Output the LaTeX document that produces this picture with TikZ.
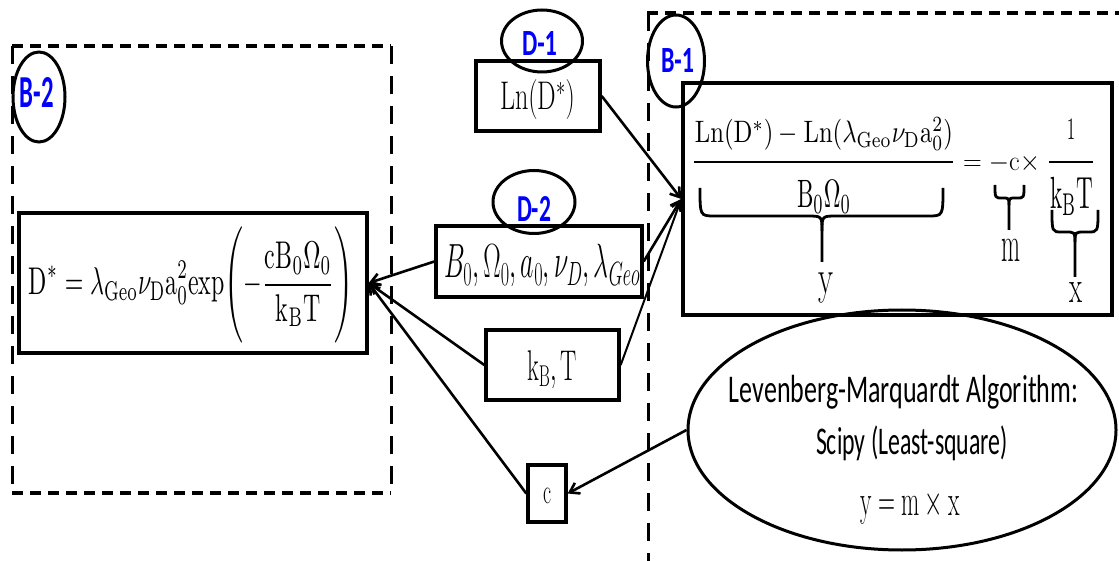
\RequirePackage{fix-cm}
\documentclass[tikz,border=0pt]{standalone}
\usepackage{fontspec}
\usepackage{graphicx}
\newfontfamily\calib{Carlito}
\usetikzlibrary{arrows.meta,shapes.geometric}
\newcommand{\fw}[3]{\resizebox{#1}{\height}{\fontsize{#2}{#2}\selectfont #3}}
\newcommand{\fwh}[3]{\resizebox*{#1}{#2}{#3}}
% underbrace with stem: x1, x2, xc, ytop, ymid, ystem, r
\newcommand{\ubr}[7]{%
  \draw[brc] (#1,#4) .. controls (#1,#5) .. (#1+#7,#5) -- (#3-#7,#5) .. controls (#3,#5) .. (#3,#5+#7) -- (#3,#6);
  \draw[brc] (#2,#4) .. controls (#2,#5) .. (#2-#7,#5) -- (#3+#7,#5) .. controls (#3,#5) .. (#3,#5+#7);}
\begin{document}
\begin{tikzpicture}[x=1pt,y=-1pt,
  box/.style={draw, rectangle, line width=3.4pt, inner sep=0pt},
  lbl/.style={draw, ellipse, line width=3pt, inner sep=0pt},
  lbltxt/.style={inner sep=0pt, text=blue},
  txt/.style={inner sep=0pt},
  arr/.style={line width=2.6pt, -{Straight Barb[length=9pt,width=12pt]}},
  dsh/.style={line width=4pt, dash pattern=on 11pt off 7pt},
  dsv/.style={line width=3pt, dash pattern=on 18pt off 12pt},
  brc/.style={line width=2.8pt},
  bar/.style={line width=2.6pt}]
\useasboundingbox (0,0) rectangle (1119,561);

% dashed frames
\draw[dsh] (12,46) -- (391,46);
\draw[dsh] (12,493) -- (391,493);
\draw[dsv] (12,46) -- (12,493);
\draw[dsv] (391,46) -- (391,493);
\draw[dsh] (647,13) -- (1125,13);
\draw[dsv] (648,13) -- (648,561);

% boxes
\node[box, minimum width=348pt, minimum height=140pt] (dbox) at (193,283) {};
\node[box, minimum width=124pt, minimum height=70pt] (lnbox) at (538,96) {};
\node[box, minimum width=206pt, minimum height=71pt] (pbox) at (539,261.5) {};
\node[box, minimum width=133pt, minimum height=70pt] (kbox) at (552.5,365) {};
\node[box, minimum width=38pt, minimum height=57pt] (cbox) at (547,493.5) {};
\node[box, minimum width=429pt, minimum height=232pt] (b1box) at (897.5,199) {};
\node[draw, ellipse, line width=3pt, minimum width=428pt, minimum height=240pt] (lm) at (902,430) {};

% texts in boxes
\node[txt] (dtxt) at (191,285) {\fwh{324pt}{116pt}{$\displaystyle \mathrm{D}^* = \lambda_{\mathrm{Geo}}\nu_{\mathrm{D}}\mathrm{a}_0^2\mathrm{exp}\Biggl(-\frac{\mathrm{cB}_0\Omega_0}{\mathrm{k_B T}}\Biggr)$}};
\node[txt, anchor=base] (lntxt) at (537.5,110) {\fw{75pt}{40}{$\mathrm{Ln}(\mathrm{D}^*)$}};
\node[txt, anchor=base] (ptxt) at (542,278) {\fw{196pt}{48}{$B_0,\Omega_0,a_0,\nu_D,\lambda_{Geo}$}};
\node[txt, anchor=base] (ktxt) at (552,380) {\fw{50pt}{43}{$\mathrm{k_B,T}$}};
\node[txt] (ctxt) at (547,495.5) {\fw{8pt}{35}{$\mathrm{c}$}};

% B-1 formula
\node[txt] (num) at (824,134) {\fwh{258pt}{33pt}{$\mathrm{Ln}(\mathrm{D}^*) - \mathrm{Ln}(\lambda_{\mathrm{Geo}}\nu_{\mathrm{D}}\mathrm{a}_0^2)$}};
\draw[bar] (694,162) -- (953,162);
\node[txt] (den) at (824,196.5) {\fwh{54pt}{33pt}{$\mathrm{B}_0\Omega_0$}};
\node[txt] (eqc) at (1001.5,164) {\fw{77pt}{28}{$=-\mathrm{c}\times$}};
\node[txt] (one) at (1071,130) {\fwh{8pt}{20pt}{$1$}};
\draw[bar] (1049,162) -- (1093,162);
\node[txt] (kbt) at (1071.5,196) {\fwh{43pt}{38pt}{$\mathrm{k_B T}$}};
\ubr{700}{943}{822}{188}{216}{262}{15}
\ubr{995}{1024}{1009}{185}{198}{230}{7}
\ubr{1052}{1098}{1075}{210}{232}{277}{10}
\node[txt, anchor=base] (ylab) at (825.5,293.6) {\fw{15pt}{48}{$\mathrm{y}$}};
\node[txt, anchor=base] (mlab) at (1010.5,262) {\fw{19pt}{51}{$\mathrm{m}$}};
\node[txt, anchor=base] (xlab) at (1075.5,303) {\fw{13pt}{46.5}{$\mathrm{x}$}};

% LM ellipse text
\node[txt] (lm1) at (903.5,392) {\fwh{349pt}{34pt}{\calib Levenberg-Marquardt Algorithm:}};
\node[txt] (lm2) at (912,443.5) {\fwh{192pt}{35pt}{\calib Scipy (Least-square)}};
\node[txt, anchor=base] (lm3) at (910,515) {\fw{100pt}{44}{$\mathrm{y}=\mathrm{m}\times\mathrm{x}$}};

% labels
\node[lbl, minimum width=52pt, minimum height=90pt] (b2l) at (39,97) {};
\node[lbltxt] (b2t) at (37,92.5) {\fwh{34pt}{30pt}{\calib\bfseries B-2}};
\node[lbl, minimum width=81pt, minimum height=62pt] (d1l) at (542,41) {};
\node[lbltxt] (d1t) at (539.5,44) {\fwh{35pt}{24pt}{\calib\bfseries D-1}};
\node[lbl, minimum width=82pt, minimum height=63pt] (d2l) at (534,202) {};
\node[lbltxt] (d2t) at (534,208.5) {\fwh{34pt}{25pt}{\calib\bfseries D-2}};
\node[lbl, minimum width=57pt, minimum height=92pt] (b1l) at (676,61) {};
\node[lbltxt] (b1t) at (677.5,61) {\fwh{33pt}{24pt}{\calib\bfseries B-1}};

% connectors
\draw[arr] (lnbox.east) -- (b1box.west);
\draw[arr] (pbox.east) -- (b1box.west);
\draw[arr, line width=2pt] (kbox.east) -- (b1box.west);
\draw[arr] (pbox.west) -- (dbox.east);
\draw[arr] (kbox.west) -- (dbox.east);
\draw[arr] (cbox.west) -- (dbox.east);
\draw[arr] (lm.west) -- (cbox.east);
\end{tikzpicture}
\end{document}
